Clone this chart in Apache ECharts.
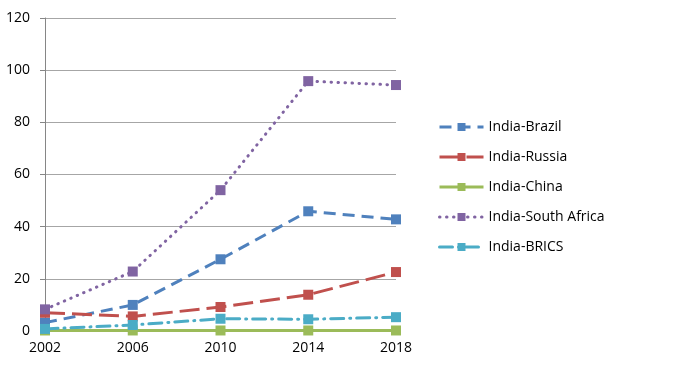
<!DOCTYPE html>
<html><head><meta charset="utf-8">
<script src="https://cdn.jsdelivr.net/npm/echarts@6/dist/echarts.min.js"></script>
<style>html,body{margin:0;padding:0;background:#fff}#c{width:700px;height:369px}</style>
</head><body><div id="c"></div>
<script>
const years = ['2002','2006','2010','2014','2018'];
const brazil = [3.2, 10, 27.5, 45.9, 42.8];
const russia = [7, 5.6, 9.2, 13.9, 22.6];
const china = [0.2, 0.2, 0.2, 0.2, 0.2];
const southAfrica = [8.3, 22.8, 54, 95.8, 94.3];
const brics = [0.8, 2.3, 4.7, 4.5, 5.3];
const names = ['India-Brazil','India-Russia','India-China','India-South Africa','India-BRICS'];
const colors = ['#4F81BD','#C0504D','#9BBB59','#8064A2','#4BACC6'];
const dashes = [[12,7],[20,7],'solid',[0.5,6.5],[13,6,1,6]];
const caps = ['butt','butt','butt','round','round'];
const vals = [brazil, russia, china, southAfrica, brics];
const chart = echarts.init(document.getElementById('c'));
chart.setOption({
  animation:false,
  textStyle:{fontFamily:'"Open Sans", "Liberation Sans", sans-serif'},
  grid:{left:45,right:304,top:18,bottom:38},
  xAxis:{type:'category',data:years,boundaryGap:false,
    axisLine:{lineStyle:{color:'#868686',width:1}},
    axisTick:{show:true,alignWithLabel:true,length:4,lineStyle:{color:'#868686'}},
    axisLabel:{color:'#000',fontSize:14,margin:10}},
  yAxis:{type:'value',min:0,max:120,interval:20,
    axisLine:{show:true,lineStyle:{color:'#868686',width:1}},
    axisTick:{show:true,length:5,lineStyle:{color:'#868686'}},
    splitLine:{lineStyle:{color:'#A6A6A6',width:1}},
    axisLabel:{color:'#000',fontSize:14,margin:15}},
  legend:{orient:'vertical',left:433,top:115,itemWidth:44,itemHeight:10,itemGap:16,
    lineStyle:{width:3},
    textStyle:{color:'#000',fontSize:14},data:names},
  series: names.map((n,i)=>({
    name:n,type:'line',data:vals[i],symbol:'rect',symbolSize:10,
    z: i===2?1:2,
    itemStyle:{color:colors[i],borderWidth:0},
    lineStyle:{color:colors[i],width:3,type:dashes[i],cap:caps[i]}
  }))
});
</script></body></html>
